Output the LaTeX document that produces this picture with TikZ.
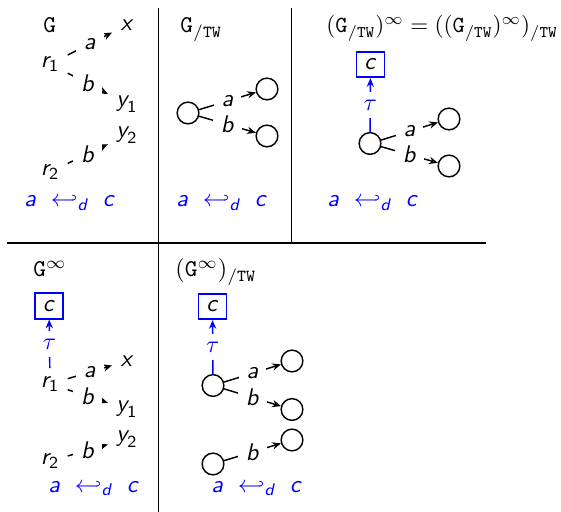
\documentclass[tikz,border=0pt]{standalone}
\usepackage{amsmath}
\usepackage{amssymb}
\usepackage{tikz}
\usepackage{xcolor}
\usetikzlibrary{arrows.meta}

\newcommand{\vs}[1]{\textsf{\slshape #1}}
\newcommand{\tw}{\mathtt{/TW}}

\begin{document}
\begin{tikzpicture}[x=0.415pt,y=-0.415pt,
  st/.style={circle,draw,semithick,minimum size=9pt,inner sep=0pt},
  lbl/.style={fill=white},
  sep/.style={thick},
  edge/.style={semithick,-{Stealth[length=3.6pt,width=3pt]}},
  tau/.style={semithick,blue,-{Stealth[length=3.6pt,width=3pt]}},
  cbox/.style={draw=blue,thick,minimum width=11.6pt,minimum height=10.5pt,inner sep=0pt},
  ttl/.style={anchor=base west,inner sep=0pt},
  emb/.style={anchor=base west,inner sep=0pt,text=blue}]
  \useasboundingbox (0,0) rectangle (561,512);
  % frame lines
  \draw[sep] (158.5,8) -- (158.5,512);
  \draw[sep] (291.5,8) -- (291.5,243);
  \draw[sep] (7,243) -- (485.5,243);
  % panel G
  \node[ttl] (tG) at (43,33) {$\mathtt{G}$};
  \node (r1) at (50,64) {$\vs{r}_{\textsf{1}}$};
  \node (x) at (127,25) {\vs{x}};
  \node (y1) at (127,104) {$\vs{y}_{\textsf{1}}$};
  \node (y2) at (127,135) {$\vs{y}_{\textsf{2}}$};
  \node (r2) at (50,172) {$\vs{r}_{\textsf{2}}$};
  \draw[edge] (r1) -- node[lbl] {\vs{a}} (x);
  \draw[edge] (r1) -- node[lbl] {\vs{b}} (y1);
  \draw[edge] (r2) -- node[lbl] {\vs{b}} (y2);
  \node[emb] (e1) at (24,207) {$\vs{a}\mkern6mu\hookleftarrow_{\vs{d}}\mkern6mu\vs{c}$};
  % panel G/TW
  \node[ttl] (tGtw) at (180,33) {$\mathtt{G}_{\tw}$};
  \node[st] (u2) at (188,113) {};
  \node[st] (v2) at (267,89) {};
  \node[st] (w2) at (267,136) {};
  \draw[edge] (u2) -- node[lbl] {\vs{a}} (v2);
  \draw[edge] (u2) -- node[lbl] {\vs{b}} (w2);
  \node[emb] (e2) at (176,207) {$\vs{a}\mkern6mu\hookleftarrow_{\vs{d}}\mkern6mu\vs{c}$};
  % panel (G/TW)^inf
  \node[ttl] (tGtwinf) at (326,33) {\resizebox{96pt}{!}{$(\mathtt{G}_{\tw})^{\infty} = ((\mathtt{G}_{\tw})^{\infty})_{\tw}$}};
  \node[cbox] (c3) at (370.5,64.5) {\vs{c}};
  \node[st] (u3) at (370,143.5) {};
  \node[st] (v3) at (449,119) {};
  \node[st] (w3) at (449,166) {};
  \draw[tau] (u3) -- node[lbl] {$\tau$} (c3);
  \draw[edge] (u3) -- node[lbl] {\vs{a}} (v3);
  \draw[edge] (u3) -- node[lbl] {\vs{b}} (w3);
  \node[emb] (e3) at (327,207) {$\vs{a}\mkern6mu\hookleftarrow_{\vs{d}}\mkern6mu\vs{c}$};
  % panel G^inf
  \node[ttl] (tGinf) at (33,277) {$\mathtt{G}^{\infty}$};
  \node[cbox] (c4) at (49,306) {\vs{c}};
  \node (r1b) at (50,384) {$\vs{r}_{\textsf{1}}$};
  \node (xb) at (127,361) {\vs{x}};
  \node (y1b) at (127,409) {$\vs{y}_{\textsf{1}}$};
  \node (y2b) at (127,439) {$\vs{y}_{\textsf{2}}$};
  \node (r2b) at (50,461) {$\vs{r}_{\textsf{2}}$};
  \draw[tau] (r1b) -- node[lbl] {$\tau$} (c4);
  \draw[edge] (r1b) -- node[lbl] {\vs{a}} (xb);
  \draw[edge] (r1b) -- node[lbl] {\vs{b}} (y1b);
  \draw[edge] (r2b) -- node[lbl] {\vs{b}} (y2b);
  \node[emb] (e4) at (48,492) {$\vs{a}\mkern6mu\hookleftarrow_{\vs{d}}\mkern6mu\vs{c}$};
  % panel (G^inf)/TW
  \node[ttl] (tGinftw) at (175,277) {$(\mathtt{G}^{\infty})_{\tw}$};
  \node[cbox] (c5) at (212.5,306.5) {\vs{c}};
  \node[st] (u5) at (213,385.5) {};
  \node[st] (v5) at (292,361) {};
  \node[st] (w5) at (292,409.5) {};
  \node[st] (p5) at (292,440) {};
  \node[st] (q5) at (213,464) {};
  \draw[tau] (u5) -- node[lbl] {$\tau$} (c5);
  \draw[edge] (u5) -- node[lbl] {\vs{a}} (v5);
  \draw[edge] (u5) -- node[lbl] {\vs{b}} (w5);
  \draw[edge] (q5) -- node[lbl] {\vs{b}} (p5);
  \node[emb] (e5) at (211,492) {$\vs{a}\mkern6mu\hookleftarrow_{\vs{d}}\mkern6mu\vs{c}$};
\end{tikzpicture}
\end{document}
